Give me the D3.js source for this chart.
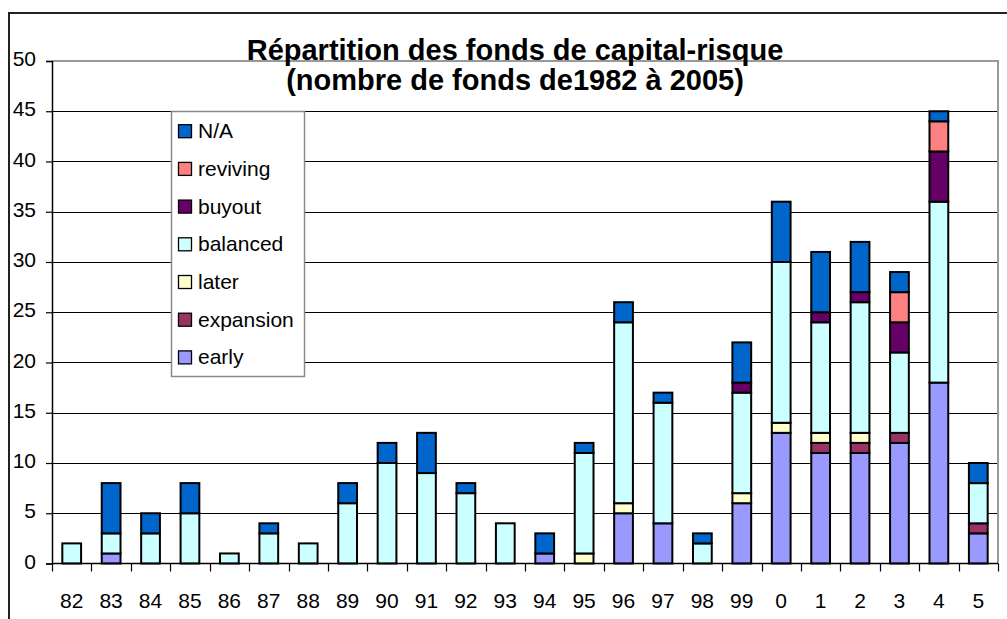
<!DOCTYPE html>
<html>
<head>
<meta charset="utf-8">
<script src="https://cdn.jsdelivr.net/npm/d3@7"></script>
<style>
  body { margin: 0; background: #fff; }
  svg { display: block; font-family: Arial, "Liberation Sans", sans-serif; }
</style>
</head>
<body>
<script>
// Years (x categories) and series, stacked bottom to top
const years = ["82", "83", "84", "85", "86", "87", "88", "89", "90", "91", "92", "93",
  "94", "95", "96", "97", "98", "99", "0", "1", "2", "3", "4", "5"];
const seriesNames = ["early", "expansion", "later", "balanced", "buyout", "reviving", "N/A"];
const seriesColors = ["#9999FF", "#993366", "#FFFFCC", "#CCFFFF", "#660066", "#FF8080", "#0066CC"];

const early     = [0, 1, 0, 0, 0, 0, 0, 0, 0, 0, 0, 0, 1, 0, 5, 4, 0, 6, 13, 11, 11, 12, 18, 3];
const expansion = [0, 0, 0, 0, 0, 0, 0, 0, 0, 0, 0, 0, 0, 0, 0, 0, 0, 0, 0, 1, 1, 1, 0, 1];
const later     = [0, 0, 0, 0, 0, 0, 0, 0, 0, 0, 0, 0, 0, 1, 1, 0, 0, 1, 1, 1, 1, 0, 0, 0];
const balanced  = [2, 2, 3, 5, 1, 3, 2, 6, 10, 9, 7, 4, 0, 10, 18, 12, 2, 10, 16, 11, 13, 8, 18, 4];
const buyout    = [0, 0, 0, 0, 0, 0, 0, 0, 0, 0, 0, 0, 0, 0, 0, 0, 0, 1, 0, 1, 1, 3, 5, 0];
const reviving  = [0, 0, 0, 0, 0, 0, 0, 0, 0, 0, 0, 0, 0, 0, 0, 0, 0, 0, 0, 0, 0, 3, 3, 0];
const na        = [0, 5, 2, 3, 0, 1, 0, 2, 2, 4, 1, 0, 2, 1, 2, 1, 1, 4, 6, 6, 5, 2, 1, 2];

const yTicks = [0, 5, 10, 15, 20, 25, 30, 35, 40, 45, 50];
const titleLines = ["Répartition des fonds de capital-risque", "(nombre de fonds de1982 à 2005)"];

const seriesValues = [early, expansion, later, balanced, buyout, reviving, na];
const table = years.map((yr, i) => {
  const row = { year: yr };
  seriesNames.forEach((s, k) => { row[s] = seriesValues[k][i]; });
  return row;
});

const width = 1007, height = 619;
const plot = { left: 52, right: 998, top: 61, bottom: 563.5 };

const svg = d3.select("body").append("svg")
  .attr("width", width)
  .attr("height", height);

// outer chart frame (runs off the page at right/bottom)
svg.append("rect")
  .attr("x", 9).attr("y", 13)
  .attr("width", 1200).attr("height", 800)
  .attr("fill", "#fff")
  .attr("stroke", "#222")
  .attr("stroke-width", 2);

const x = d3.scaleBand()
  .domain(years)
  .range([plot.left, plot.right])
  .paddingInner(0.524)
  .paddingOuter(0.262);

const y = d3.scaleLinear()
  .domain([0, 50])
  .range([plot.bottom, plot.top]);

const color = d3.scaleOrdinal().domain(seriesNames).range(seriesColors);

// gridlines
svg.append("g")
  .selectAll("line")
  .data(yTicks.filter(d => d > 0 && d < 50))
  .join("line")
  .attr("x1", plot.left).attr("x2", plot.right)
  .attr("y1", d => Math.round(y(d)) + 0.5).attr("y2", d => Math.round(y(d)) + 0.5)
  .attr("stroke", "#000")
  .attr("stroke-width", 1);

// plot area border (top and right are grey)
svg.append("path")
  .attr("d", `M${plot.left},${y(50)}H${plot.right}V${plot.bottom}`)
  .attr("fill", "none")
  .attr("stroke", "#999")
  .attr("stroke-width", 2);

// stacked bars
const stack = d3.stack().keys(seriesNames)(table);

svg.append("g")
  .selectAll("g")
  .data(stack)
  .join("g")
  .attr("fill", d => color(d.key))
  .selectAll("rect")
  .data(d => d.filter(p => p[1] > p[0]))
  .join("rect")
  .attr("x", d => x(d.data.year))
  .attr("y", d => y(d[1]))
  .attr("width", x.bandwidth())
  .attr("height", d => y(d[0]) - y(d[1]))
  .attr("stroke", "#000")
  .attr("stroke-width", 2);

// y axis
const yAxis = svg.append("g")
  .attr("transform", `translate(${plot.left},0)`)
  .call(d3.axisLeft(y).tickValues(yTicks).tickSize(6).tickPadding(10));
yAxis.select(".domain").attr("stroke", "#000").attr("stroke-width", 1.5);
yAxis.selectAll(".tick line").attr("stroke", "#000").attr("stroke-width", 1.2);
yAxis.selectAll(".tick text")
  .attr("fill", "#000")
  .style("font-size", "21px")
  .attr("dy", "0.22em");

// x axis: ticks at category boundaries
const xAxis = svg.append("g")
  .attr("transform", `translate(0,${plot.bottom})`);
xAxis.append("line")
  .attr("x1", plot.left).attr("x2", plot.right)
  .attr("stroke", "#000").attr("stroke-width", 1.5);
const step = x.step();
xAxis.selectAll("line.tk")
  .data(d3.range(years.length + 1))
  .join("line")
  .attr("class", "tk")
  .attr("x1", i => Math.round(plot.left + i * step) + 0.5)
  .attr("x2", i => Math.round(plot.left + i * step) + 0.5)
  .attr("y1", 0).attr("y2", 8)
  .attr("stroke", "#000").attr("stroke-width", 1.2);
xAxis.selectAll("text")
  .data(years)
  .join("text")
  .attr("x", d => x(d) + x.bandwidth() / 2)
  .attr("y", 44)
  .attr("text-anchor", "middle")
  .style("font-size", "21px")
  .text(d => d);

// title
svg.append("g")
  .selectAll("text")
  .data(titleLines)
  .join("text")
  .attr("x", 515)
  .attr("y", (d, i) => 59.5 + i * 30.5)
  .attr("text-anchor", "middle")
  .style("font-size", "29px")
  .style("font-weight", "bold")
  .text(d => d);

// legend (top item = last series)
const legend = svg.append("g");
legend.append("rect")
  .attr("x", 171.5).attr("y", 111.5)
  .attr("width", 133).attr("height", 265)
  .attr("fill", "#fff")
  .attr("stroke", "#888")
  .attr("stroke-width", 1.5);

const legendItems = legend.selectAll("g")
  .data(seriesNames.slice().reverse())
  .join("g")
  .attr("transform", (d, i) => `translate(178,${130.7 + i * 37.7})`);
legendItems.append("rect")
  .attr("x", 0.5).attr("y", -6)
  .attr("width", 13).attr("height", 13)
  .attr("fill", d => color(d))
  .attr("stroke", "#000")
  .attr("stroke-width", 1.3);
legendItems.append("text")
  .attr("x", 20)
  .attr("y", 0)
  .attr("dy", "0.36em")
  .style("font-size", "21px")
  .text(d => d);
</script>
</body>
</html>
